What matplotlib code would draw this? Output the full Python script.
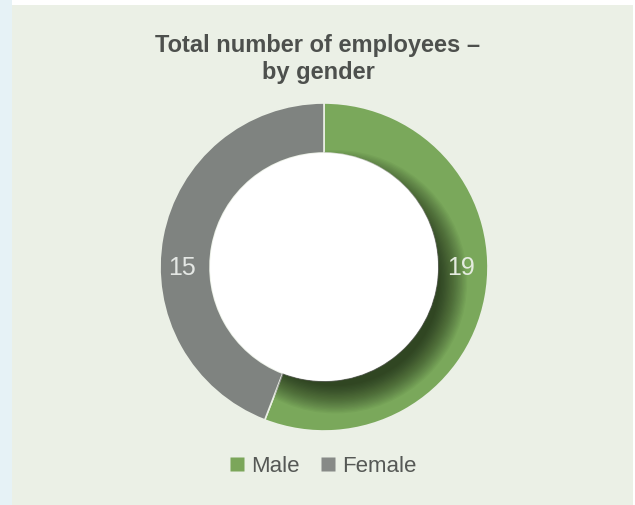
import matplotlib.pyplot as plt
from matplotlib.patches import Circle, Rectangle
from matplotlib.lines import Line2D

categories = ["Male", "Female"]
employees = [19, 15]
colors = ["#7aa85b", "#7f8380"]
legend_colors = ["#7ba65a", "#878a87"]
title = "Total number of employees –\nby gender"

W, H = 635, 506
fig = plt.figure(figsize=(W / 100, H / 100), dpi=100, facecolor="white")

# panel background and left strip
fig.patches.append(Rectangle((0, 0), 12 / W, 1, transform=fig.transFigure,
                             facecolor="#e6f2f6", edgecolor="none", zorder=-5))
fig.patches.append(Rectangle((12 / W, 0), 621 / W, 1 - 6 / H, transform=fig.transFigure,
                             facecolor="#ebf0e6", edgecolor="none", zorder=-5))

cx, cy, r = 324, 268, 164
ax = fig.add_axes([(cx - r) / W, (H - cy - r) / H, 2 * r / W, 2 * r / H])
ax.set_facecolor("none")
ax.set_zorder(2)

inner = 0.695
wedges, _ = ax.pie(employees, colors=colors, startangle=90, counterclock=False,
                   radius=1.0,
                   wedgeprops=dict(width=1 - inner, edgecolor="#ebf0e6", linewidth=1.2))

# soft inner shadow on the green segment, strongest toward the lower right
n = 22
for k in range(n):
    c = Circle((0.07, -0.09), inner - 0.06 + 0.008 * k, facecolor="black",
               edgecolor="none", alpha=0.036, zorder=3)
    ax.add_patch(c)
    c.set_clip_path(wedges[0])

ax.add_patch(Circle((0, 0), inner, facecolor="white", edgecolor="none", zorder=4))

mid = (1 + inner) / 2
ax.text(mid - 0.01, 0, str(employees[0]), ha="center", va="center", color="#e4ebdf",
        fontsize=18, family="Liberation Sans", zorder=5)
ax.text(-mid - 0.02, 0, str(employees[1]), ha="center", va="center", color="#e4e7e4",
        fontsize=18, family="Liberation Sans", zorder=5)

ax.set_xlim(-1, 1)
ax.set_ylim(-1, 1)
ax.set_aspect("equal")
ax.axis("off")

fig.text(318 / W, 1 - 59 / H, title, ha="center", va="center", fontsize=17,
         fontweight="bold", color="#4d504d", family="Liberation Sans", linespacing=1.22)

handles = [Line2D([], [], marker="s", linestyle="none", markersize=9.5,
                  markerfacecolor=c, markeredgecolor="none") for c in legend_colors]
fig.legend(handles, categories, loc="center", bbox_to_anchor=(323 / W, 1 - 467 / H),
           ncol=2, frameon=False, handlelength=0.7, handletextpad=0.3,
           columnspacing=0.9, prop={"family": "Liberation Sans", "size": 16},
           labelcolor="#555855")

fig.savefig("out.png", dpi=100, facecolor=fig.get_facecolor())
